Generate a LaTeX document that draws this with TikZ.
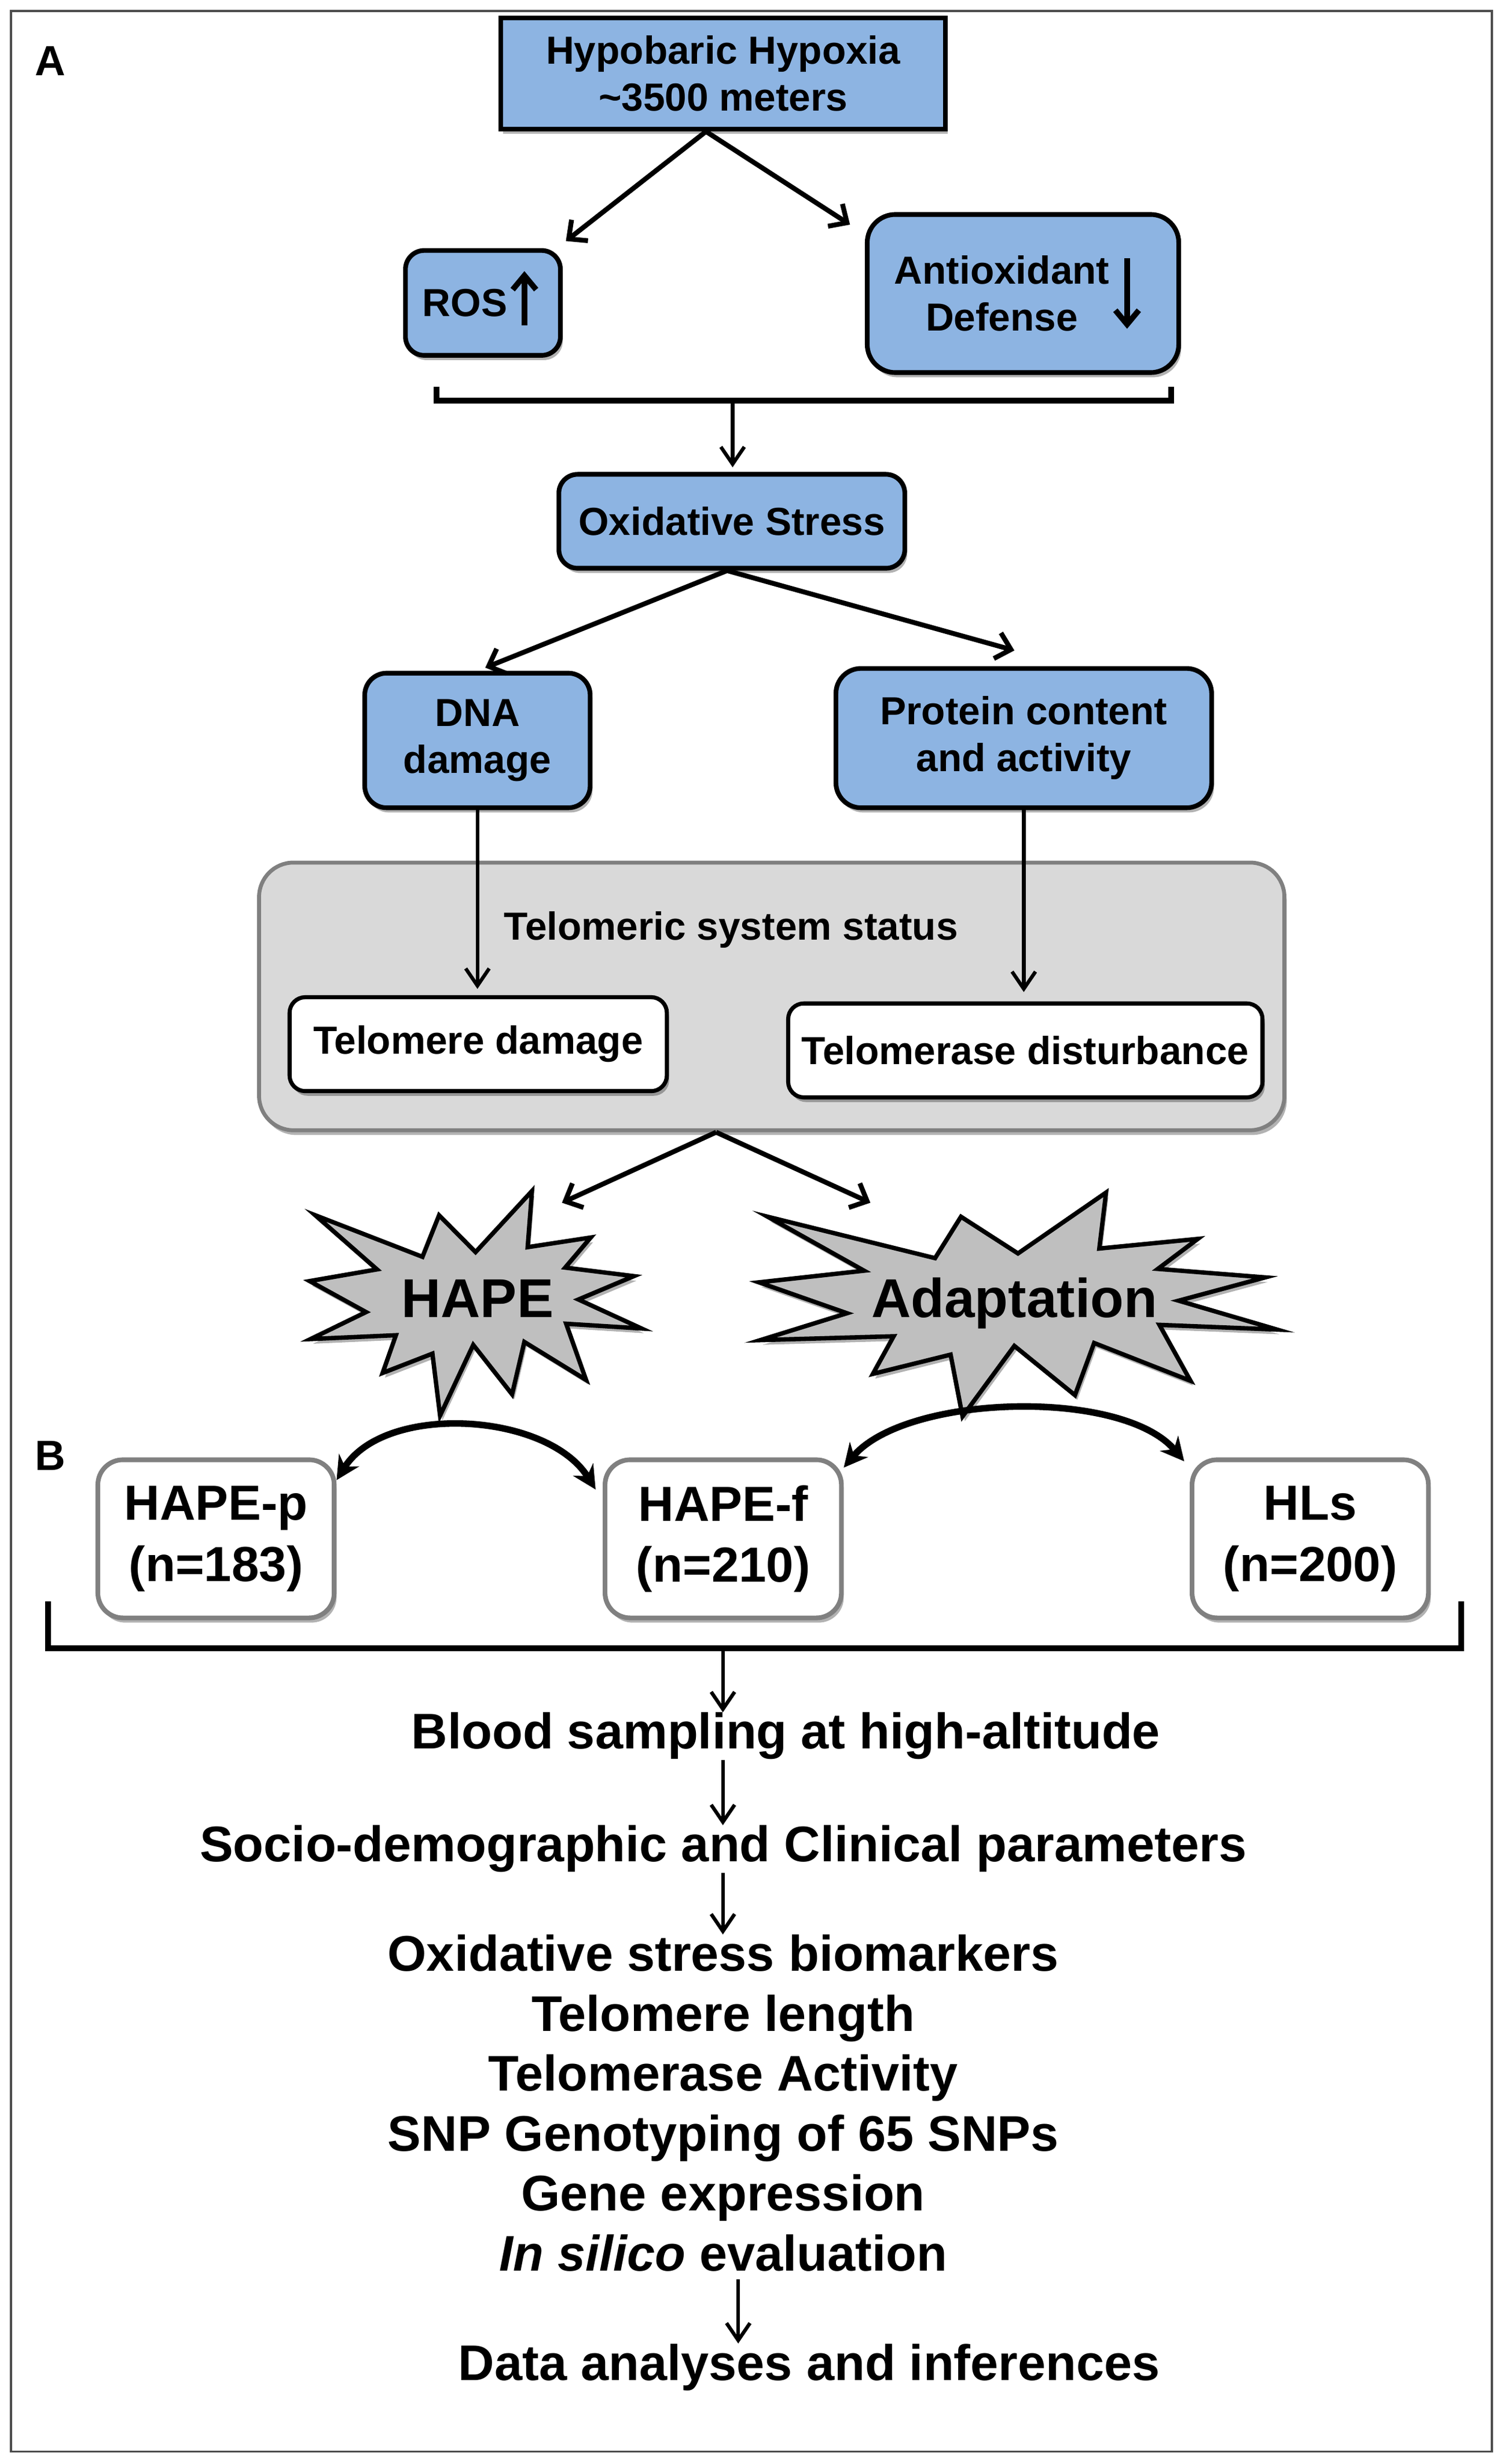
\documentclass[tikz,border=0pt]{standalone}
\usepackage{fontspec}
\setmainfont{Liberation Sans}
\usetikzlibrary{arrows.meta,shadows,calc}
\definecolor{boxblue}{RGB}{141,180,226}
\definecolor{boxgray}{RGB}{217,217,217}
\definecolor{stargray}{RGB}{191,191,191}
\definecolor{edgegray}{RGB}{128,128,128}
\tikzset{
  shad/.style={drop shadow={shadow xshift=1.5pt,shadow yshift=-3pt,opacity=0.3,fill=black}},
  boxfont/.style={font=\fontsize{25}{30}\selectfont\bfseries},
  bluebox/.style={draw=black,line width=3pt,fill=boxblue,inner sep=0pt,align=center,boxfont,shad},
  whitebox/.style={draw=black,line width=2.6pt,fill=white,rounded corners=10pt,inner sep=0pt,boxfont,shad},
  grpbox/.style={draw=edgegray,line width=3pt,fill=white,rounded corners=16pt,inner sep=0pt,align=center,font=\fontsize{31.5}{39}\selectfont\bfseries,shad},
  arr/.style={line width=3.1pt,-{Straight Barb[length=9pt,width=17pt]}},
  varr/.style={line width=2.3pt,-{Straight Barb[length=11pt,width=15pt]}},
  glypharr/.style={line width=3.6pt,-{Straight Barb[length=9pt,width=15pt]}},
  carr/.style={line width=4.2pt,{Stealth[length=15pt,width=15pt]}-{Stealth[length=15pt,width=15pt]}},
  brk/.style={line width=3.7pt,line join=miter},
  bigtxt/.style={font=\fontsize{32}{38.3}\selectfont\bfseries,inner sep=0pt},
  startxt/.style={font=\fontsize{35}{42}\selectfont\bfseries,inner sep=0pt},
  lbl/.style={font=\fontsize{27}{30}\selectfont\bfseries,inner sep=0pt},
  starfill/.style={draw=black,line width=2.8pt,fill=stargray,line join=miter,shad},
  burst/.pic={
    \draw[starfill] (0.017,0.108) -- (0.340,0.293) -- (0.390,0.108) -- (0.500,0.272)
      -- (0.670,0.000) -- (0.657,0.250) -- (0.847,0.207) -- (0.770,0.341)
      -- (0.977,0.379) -- (0.810,0.483) -- (1.000,0.612) -- (0.773,0.591)
      -- (0.833,0.841) -- (0.647,0.672) -- (0.610,0.905) -- (0.493,0.685)
      -- (0.393,1.000) -- (0.370,0.724) -- (0.220,0.810) -- (0.260,0.642)
      -- (0.003,0.659) -- (0.170,0.539) -- (0.000,0.401) -- (0.203,0.349) -- cycle;
  }
}
\begin{document}
\begin{tikzpicture}[x=1pt,y=1pt]
\fill[white] (0,0) rectangle (958,-1574);
\useasboundingbox (0,0) rectangle (958,-1574);
\draw[line width=1.3pt,draw=black!70] (7,-7) rectangle (953,-1566);

% ---------- panel A ----------
\node[lbl] (labA) at (32,-39) {A};
\node[bluebox,minimum width=284,minimum height=71] (hypo) at (462,-47) {Hypobaric Hypoxia\\\textasciitilde3500 meters};
\node[bluebox,rounded corners=12pt,minimum width=99,minimum height=67] (ros) at (308.5,-193.5) {ROS\hspace*{23pt}};
\draw[glypharr] ($(ros.center)+(26.5,-14.5)$) -- ($(ros.center)+(26.5,20.3)$);
\node[bluebox,rounded corners=18pt,minimum width=199,minimum height=101] (anti) at (653.5,-187.5) {Antioxidant\hspace*{27pt}\\Defense\hspace*{27pt}};
\draw[glypharr] ($(anti.center)+(66.5,22.5)$) -- ($(anti.center)+(66.5,-22.5)$);

\draw[arr] ([xshift=-11pt]hypo.south) -- ([shift={(2,4.5)}]ros.north east);
\draw[arr] ([xshift=-11pt]hypo.south) -- ([shift={(-9.5,-8)}]anti.north west);

\draw[brk] (279,-247) |- (748,-256) -- (748,-247);
\coordinate (b1) at (468,-256);
\node[bluebox,rounded corners=12pt,minimum width=221,minimum height=60] (oxi) at (467.5,-333) {Oxidative Stress};
\draw[varr,shorten >=3pt] (b1) -- (b1 |- oxi.north);

\node[bluebox,rounded corners=14pt,minimum width=144,minimum height=86] (dna) at (305,-473) {DNA\\damage};
\node[bluebox,rounded corners=16pt,minimum width=240,minimum height=89] (prot) at (654,-471.5) {Protein content\\and activity};
\draw[arr] ([xshift=-3pt]oxi.south) -- ([shift={(5,2)}]dna.north);
\draw[arr] ([xshift=-3pt]oxi.south) -- ([shift={(-6,10)}]prot.north);

\node[draw=edgegray,line width=2.5pt,fill=boxgray,rounded corners=22pt,minimum width=655,minimum height=171,inner sep=0pt,shad] (tss) at (493,-636.5) {};
\node[boxfont,inner sep=0pt] (tsstitle) at (467,-594) {Telomeric system status};
\node[whitebox,minimum width=241,minimum height=60] (telo) at (305.5,-667) {Telomere damage};
\node[whitebox,minimum width=303,minimum height=60] (tase) at (655,-671) {Telomerase disturbance};
\draw[varr,shorten >=4pt] (dna.south) -- (dna.south |- telo.north);
\draw[varr,shorten >=6pt] (prot.south) -- (prot.south |- tase.north);

\node[inner sep=0pt,minimum width=212,minimum height=143.5] (hapebb) at (304,-832.75) {};
\node[inner sep=0pt,minimum width=331,minimum height=143] (adbb) at (650.5,-833.5) {};
\begin{scope}[shift={(hapebb.north west)},x=212pt,y=-143.5pt]
  \pic {burst};
\end{scope}
\begin{scope}[shift={(adbb.north west)},x=331pt,y=-143pt]
  \pic {burst};
\end{scope}
\node[startxt,anchor=base] (hapet) at (305,-841.5) {HAPE};
\node[startxt,anchor=base] (adt) at (648,-841.5) {Adaptation};
\draw[arr] ([xshift=-35.5pt]tss.south) -- ([shift={(55,-7.5)}]hapebb.north);
\draw[arr] ([xshift=-35.5pt]tss.south) -- ([shift={(-94.5,-6.5)}]adbb.north);

% ---------- panel B ----------
\node[lbl] (labB) at (32,-930) {B};
\node[grpbox,minimum width=151,minimum height=101] (hapep) at (138,-983) {HAPE-p\\(n=183)};
\node[grpbox,minimum width=151,minimum height=101] (hapef) at (462,-983) {HAPE-f\\(n=210)};
\node[grpbox,minimum width=151,minimum height=101] (hls) at (837,-983) {HLs\\(n=200)};
\draw[carr] ([yshift=-14.5pt]hapep.north east) to[out=58,in=122,looseness=0.9] ([shift={(-4.5,-20.5)}]hapef.north west);
\draw[carr] ([yshift=-6.5pt]hapef.north east) to[out=50,in=130,looseness=0.72] ([shift={(-3.5,-2.5)}]hls.north west);

\draw[brk] (30.7,-1023) |- (933.4,-1053) -- (933.4,-1023);
\coordinate (b2) at (461.8,-1053);
\coordinate (ax4) at (471.6,-1453);

\node[bigtxt,anchor=base] (blood) at (502,-1117.2) {Blood sampling at high-altitude};
\node[bigtxt,anchor=base] (socio) at (462,-1189.3) {Socio-demographic and Clinical parameters};
\node[bigtxt,anchor=base] (m1) at (462,-1259.1) {Oxidative stress biomarkers};
\node[bigtxt,anchor=base] (m2) at (462,-1297.4) {Telomere length};
\node[bigtxt,anchor=base] (m3) at (462,-1335.7) {Telomerase Activity};
\node[bigtxt,anchor=base] (m4) at (462,-1374.0) {SNP Genotyping of 65 SNPs};
\node[bigtxt,anchor=base] (m5) at (462,-1412.3) {Gene expression};
\node[bigtxt,anchor=base] (m6) at (462,-1450.6) {{\itshape In silico} evaluation};
\node[bigtxt,anchor=base] (data) at (517,-1520.4) {Data analyses and inferences};

\draw[varr] (b2) -- (b2 |- blood.north);
\draw[varr] (blood.south -| b2) -- (socio.north -| b2);
\draw[varr] (socio.south -| b2) -- (m1.north -| b2);
\draw[varr,shorten <=5pt] (m6.south -| ax4) -- (data.north -| ax4);
\end{tikzpicture}
\end{document}
